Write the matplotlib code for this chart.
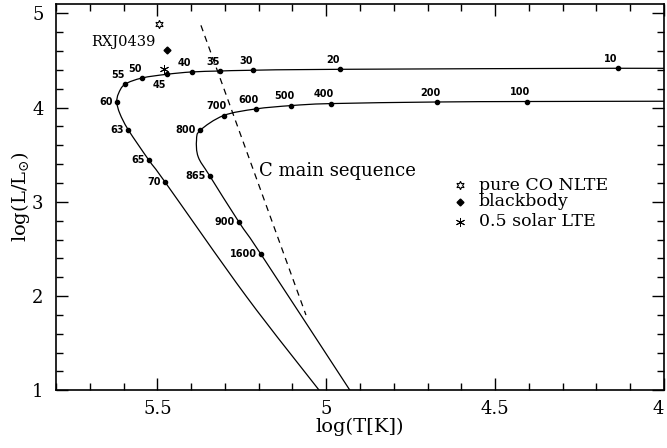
import numpy as np
import matplotlib
matplotlib.use("Agg")
import matplotlib.pyplot as plt
from matplotlib.ticker import MultipleLocator
from matplotlib.path import Path
from matplotlib.patches import PathPatch

plt.rcParams['font.family'] = 'DejaVu Serif'
plt.rcParams['mathtext.fontset'] = 'dejavuserif'

# upper track (labels 10..70)
up_x = [4.0, 4.137, 4.958, 5.218, 5.314, 5.398, 5.472, 5.545, 5.596, 5.615, 5.620, 5.611, 5.586, 5.525, 5.477, 5.236, 5.021]
up_y = [4.415, 4.418, 4.407, 4.397, 4.389, 4.379, 4.354, 4.315, 4.248, 4.15, 4.057, 3.937, 3.764, 3.442, 3.209, 1.993, 1.0]

# labelled points on upper track
up_lab = ['10', '20', '30', '35', '40', '45', '50', '55', '60', '63', '65', '70']
up_lx = [4.137, 4.958, 5.218, 5.314, 5.398, 5.472, 5.545, 5.596, 5.620, 5.586, 5.525, 5.477]
up_ly = [4.418, 4.407, 4.397, 4.389, 4.379, 4.354, 4.315, 4.248, 4.057, 3.764, 3.442, 3.209]
up_pos = ['a', 'a', 'a', 'a', 'a', 'b', 'a', 'a', 'l', 'l', 'l', 'l']

# lower track (labels 100..1600)
lo_x = [4.0, 4.407, 4.671, 4.986, 5.103, 5.209, 5.304, 5.373, 5.384, 5.379, 5.345, 5.259, 5.193, 4.930]
lo_y = [4.068, 4.065, 4.06, 4.043, 4.022, 3.986, 3.916, 3.760, 3.654, 3.477, 3.276, 2.788, 2.442, 1.0]

lo_lab = ['100', '200', '400', '500', '600', '700', '800', '865', '900', '1600']
lo_lx = [4.407, 4.671, 4.986, 5.103, 5.209, 5.304, 5.373, 5.345, 5.259, 5.193]
lo_ly = [4.065, 4.06, 4.043, 4.022, 3.986, 3.916, 3.760, 3.276, 2.788, 2.442]
lo_pos = ['a', 'a', 'a', 'a', 'a', 'a', 'l', 'l', 'l', 'l']

# C main sequence
ms_x = [5.371, 5.060]
ms_y = [4.874, 1.798]

# RXJ0439 observations
obs_x = [5.495, 5.472, 5.480]
obs_y = [4.892, 4.616, 4.415]
obs_names = ['pure CO NLTE', 'blackbody', '0.5 solar LTE']


def smooth_path(xs, ys):
    # cubic bezier through the points (catmull-rom tangents)
    p = np.column_stack([xs, ys])
    n = len(p)
    verts = [p[0]]
    codes = [Path.MOVETO]
    for i in range(n - 1):
        p0 = p[i - 1] if i > 0 else p[i]
        p3 = p[i + 2] if i + 2 < n else p[i + 1]
        c1 = p[i] + (p[i + 1] - p0) / 6.0
        c2 = p[i + 1] - (p3 - p[i]) / 6.0
        verts += [c1, c2, p[i + 1]]
        codes += [Path.CURVE4] * 3
    return Path(verts, codes)


fig = plt.figure(figsize=(6.67, 4.48), dpi=100)
ax0 = fig.add_axes([0.084, 0.129, 0.9115, 0.862])

for xs, ys in [(up_x, up_y), (lo_x, lo_y)]:
    ax0.add_patch(PathPatch(smooth_path(xs, ys), fc='none', ec='k', lw=0.9))
ax0.plot(ms_x, ms_y, 'k--', lw=0.9, dashes=(5, 4))

ax0.plot(up_lx, up_ly, 'ko', ms=3)
ax0.plot(lo_lx, lo_ly, 'ko', ms=3)


def put_labels(xs, ys, labs, pos):
    for x, y, s, p in zip(xs, ys, labs, pos):
        if p == 'a':
            off, ha, va = (-5, 3), 'center', 'bottom'
        elif p == 'b':
            off, ha, va = (-5, -4), 'center', 'top'
        else:
            off, ha, va = (-3, 0), 'right', 'center'
        ax0.annotate(s, (x, y), xytext=off, textcoords='offset points',
                     ha=ha, va=va, fontsize=7, fontweight='bold',
                     family='DejaVu Sans')


put_labels(up_lx, up_ly, up_lab, up_pos)
put_labels(lo_lx, lo_ly, lo_lab, lo_pos)

# observed positions
mk = [dict(marker=(6, 1, 0), mfc='none', mec='k', ms=6, mew=0.8),
      dict(marker='D', mfc='k', mec='k', ms=3.5),
      dict(marker=(6, 2, 0), mec='k', ms=6.5, mew=0.7)]
for x, y, m in zip(obs_x, obs_y, mk):
    ax0.plot(x, y, ls='none', **m)
ax0.text(5.504, 4.697, 'RXJ0439', ha='right', va='center', fontsize=10.5)

# legend drawn by hand
leg_y = [3.177, 3.0, 2.788]
for y, m, name in zip(leg_y, mk, obs_names):
    ax0.plot(4.605, y, ls='none', **m)
    ax0.text(4.548, y, name, ha='left', va='center', fontsize=12.5)

ax0.text(5.199, 3.326, 'C main sequence', ha='left', va='center', fontsize=13)

ax0.set_xlim(5.8, 4.0)
ax0.set_ylim(1.0, 5.1)
ax0.xaxis.set_minor_locator(MultipleLocator(0.1))
ax0.yaxis.set_major_locator(MultipleLocator(1))
ax0.yaxis.set_minor_locator(MultipleLocator(0.2))
ax0.set_xticks([5.5, 5.0, 4.5, 4.0])
ax0.set_xticklabels(['5.5', '5', '4.5', '4'])
ax0.get_xticklabels()[-1].set_ha('right')
ax0.tick_params(which='both', direction='in', top=True, right=True, labelsize=13, width=1)
ax0.tick_params(which='major', length=8.5)
ax0.tick_params(axis='x', which='major', pad=7)
ax0.tick_params(axis='y', which='major', pad=9)
ax0.tick_params(which='minor', length=5)
for sp in ax0.spines.values():
    sp.set_linewidth(1.2)

ax0.set_xlabel('log(T[K])', fontsize=14, labelpad=0)
ax0.set_ylabel(r'log(L/L$_{\odot}$)', fontsize=14, labelpad=0)

fig.savefig('out.png', dpi=100)
